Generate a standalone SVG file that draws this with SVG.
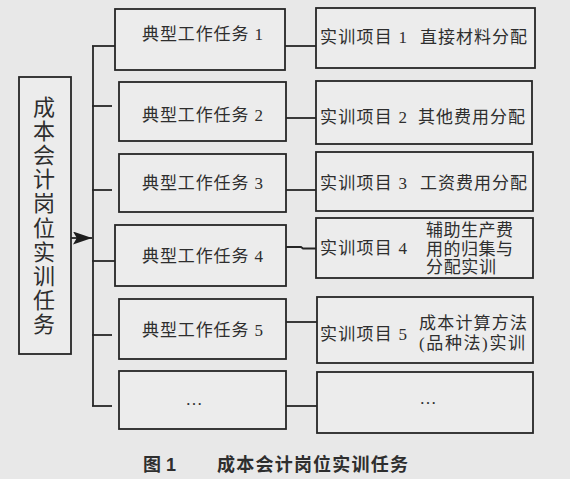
<svg xmlns="http://www.w3.org/2000/svg" width="570" height="479" viewBox="0 0 570 479">
<defs>
<style>
.bg{fill:#e8e8e8}
.box{fill:#ececec;stroke:#262626;stroke-width:1.8}
.ln{fill:none;stroke:#262626;stroke-width:1.8}
.t{font-family:"Liberation Serif","Noto Sans CJK SC",serif;font-size:17px;fill:#2e2e2e}
.tl{font-family:"Liberation Serif","Noto Sans CJK SC",serif;font-size:22px;fill:#2e2e2e}
.cap{font-family:"Liberation Sans","Noto Sans CJK SC",sans-serif;font-size:18px;font-weight:bold;fill:#2e2e2e}
</style>
<marker id="arr" viewBox="0 0 10 10" refX="10" refY="5" markerWidth="19" markerHeight="13" preserveAspectRatio="none" markerUnits="userSpaceOnUse" orient="auto">
<path d="M0,0 L10,5 L0,10 L2,5 Z" fill="#1e1e1e"/>
</marker>
</defs>
<rect class="bg" x="0" y="0" width="570" height="479"/>

<g id="connectors">
<line class="ln" x1="68" y1="238" x2="92" y2="238" marker-end="url(#arr)"/>
<line class="ln" x1="93" y1="46" x2="93" y2="406"/>
<line class="ln" x1="92" y1="46" x2="115" y2="46"/>
<line class="ln" x1="92" y1="106" x2="112" y2="106"/>
<line class="ln" x1="92" y1="190" x2="112" y2="190"/>
<line class="ln" x1="92" y1="261" x2="115" y2="261"/>
<line class="ln" x1="92" y1="335" x2="112" y2="335"/>
<line class="ln" x1="92" y1="406" x2="112" y2="406"/>
<line class="ln" x1="285" y1="46" x2="316" y2="46"/>
<line class="ln" x1="286" y1="118" x2="316" y2="118"/>
<line class="ln" x1="286" y1="190" x2="316" y2="190"/>
<polyline class="ln" points="286,247 301,247 303,248.5 316,248.5"/>
<line class="ln" x1="286" y1="322" x2="317" y2="322"/>
<line class="ln" x1="286" y1="406" x2="317" y2="406"/>
</g>

<g id="root">
<rect class="box" x="19" y="77" width="52" height="277"/>
<text class="tl" x="44" text-anchor="middle">
<tspan x="44" y="115">成</tspan><tspan x="44" y="139">本</tspan><tspan x="44" y="163">会</tspan><tspan x="44" y="187">计</tspan><tspan x="44" y="211">岗</tspan><tspan x="44" y="236">位</tspan><tspan x="44" y="260">实</tspan><tspan x="44" y="284">训</tspan><tspan x="44" y="308">任</tspan><tspan x="44" y="332">务</tspan>
</text>
</g>

<g id="task1"><rect class="box" x="115" y="9" width="170" height="61"/><text class="t" x="142" y="40" textLength="121">典型工作任务 1</text></g>
<g id="task2"><rect class="box" x="119" y="82" width="167" height="59"/><text class="t" x="142" y="121" textLength="121">典型工作任务 2</text></g>
<g id="task3"><rect class="box" x="119" y="154" width="167" height="58"/><text class="t" x="142" y="189" textLength="121">典型工作任务 3</text></g>
<g id="task4"><rect class="box" x="115" y="225" width="171" height="61"/><text class="t" x="142" y="262" textLength="121">典型工作任务 4</text></g>
<g id="task5"><rect class="box" x="119" y="299" width="167" height="60"/><text class="t" x="142" y="336" textLength="121">典型工作任务 5</text></g>
<g id="task6"><rect class="box" x="119" y="371" width="167" height="58"/><text class="t" x="194" y="405" text-anchor="middle">…</text></g>

<g id="proj1"><rect class="box" x="316" y="8" width="219" height="60"/><text class="t" x="320" y="43" textLength="87">实训项目 1</text><text class="t" x="420" y="43" textLength="107">直接材料分配</text></g>
<g id="proj2"><rect class="box" x="316" y="81" width="216" height="63"/><text class="t" x="320" y="123" textLength="87">实训项目 2</text><text class="t" x="418" y="123" textLength="107">其他费用分配</text></g>
<g id="proj3"><rect class="box" x="316" y="152" width="217" height="59"/><text class="t" x="320" y="189" textLength="87">实训项目 3</text><text class="t" x="420" y="189" textLength="107">工资费用分配</text></g>
<g id="proj4"><rect class="box" x="316" y="218" width="217" height="60"/><text class="t" x="320" y="254" textLength="87">实训项目 4</text><text class="t" x="426" y="236" textLength="87">辅助生产费</text><text class="t" x="426" y="254.5" textLength="87">用的归集与</text><text class="t" x="426" y="273" textLength="70">分配实训</text></g>
<g id="proj5"><rect class="box" x="317" y="297" width="216" height="66"/><text class="t" x="320" y="340" textLength="87">实训项目 5</text><text class="t" x="419" y="329" textLength="108">成本计算方法</text><text class="t" x="419" y="349" textLength="106">(品种法)实训</text></g>
<g id="proj6"><rect class="box" x="317" y="372" width="216" height="61"/><text class="t" x="428" y="404" text-anchor="middle">…</text></g>

<g id="caption">
<text class="cap" x="143" y="471">图 1</text>
<text class="cap" x="217" y="471" textLength="191">成本会计岗位实训任务</text>
</g>
</svg>
